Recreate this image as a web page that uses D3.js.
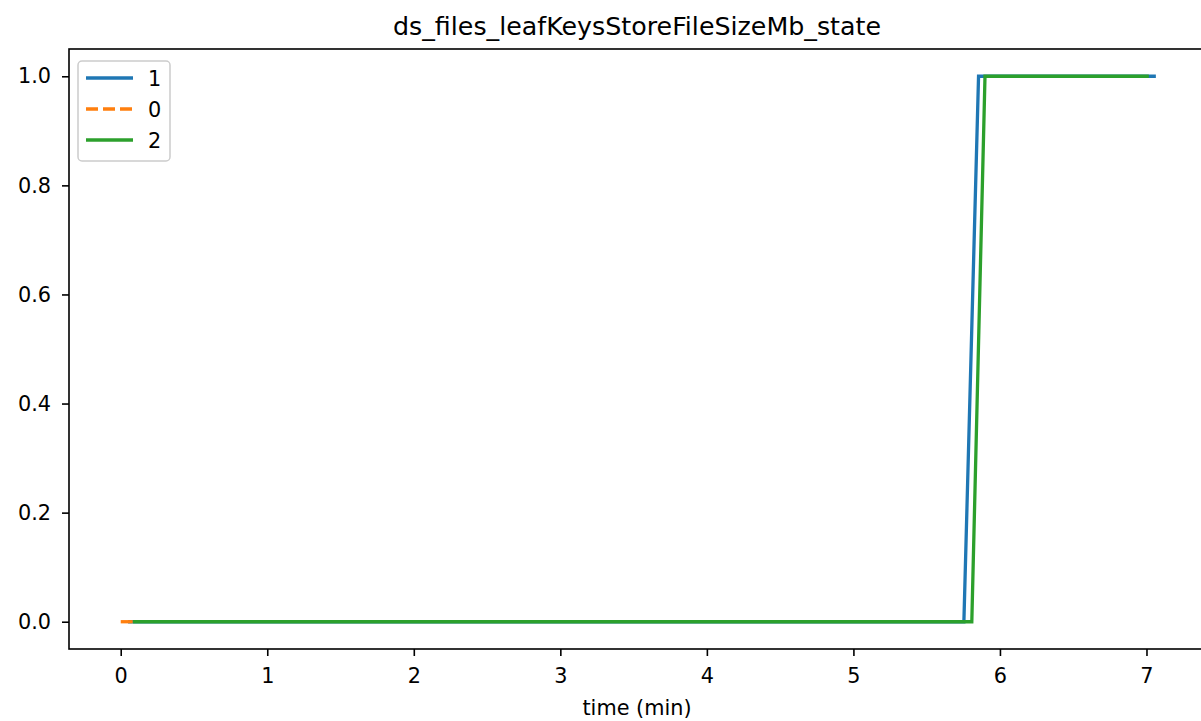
<!DOCTYPE html>
<html><head><meta charset="utf-8">
<script src="https://cdn.jsdelivr.net/npm/d3@7"></script>
<style>body{margin:0;background:#fff}svg{display:block}text{font-family:"DejaVu Sans",sans-serif;fill:#000}</style>
</head><body>
<script>
const title = "ds_files_leafKeysStoreFileSizeMb_state";
const xLabel = "time (min)";
const xTicks = [0,1,2,3,4,5,6,7];
const yTicks = [0,0.2,0.4,0.6,0.8,1.0];
const seriesNames = ["1","0","2"];
const seriesColors = ["#1f77b4","#ff7f0e","#2ca02c"];
const series1 = [[0.05,0],[5.754,0],[5.854,1],[7.064,1]];
const series0 = [[0,0],[0.084,0]];
const series2 = [[0.084,0],[5.808,0],[5.898,1],[7.016,1]];
const allSeries = [series1, series0, series2];
const dashes = [null, "12,5", null];

const W = 1201, H = 721;
const svg = d3.select("body").append("svg").attr("width", W).attr("height", H);
const x = d3.scaleLinear().domain([-0.353, 7.413]).range([69, 1207]);
const y = d3.scaleLinear().domain([-0.05, 1.05]).range([649, 49]);

svg.append("defs").append("clipPath").attr("id","clip").append("rect")
  .attr("x",69).attr("y",49).attr("width",1138).attr("height",600);

const line = d3.line().x(d=>x(d[0])).y(d=>y(d[1]));
const g = svg.append("g").attr("clip-path","url(#clip)");
allSeries.forEach((s,i)=>{
  g.append("path").datum(s).attr("d",line).attr("fill","none")
    .attr("stroke",seriesColors[i]).attr("stroke-width",3.3)
    .attr("stroke-dasharray",dashes[i]).attr("stroke-linejoin","miter");
});

// frame
svg.append("rect").attr("x",69).attr("y",49).attr("width",1138).attr("height",600)
  .attr("fill","none").attr("stroke","#000").attr("stroke-width",1.6);

const xAxis = svg.append("g").attr("transform","translate(0,649)")
  .call(d3.axisBottom(x).tickValues(xTicks).tickFormat(d3.format("d")).tickSize(7).tickPadding(12));
const yAxis = svg.append("g").attr("transform","translate(69,0)")
  .call(d3.axisLeft(y).tickValues(yTicks).tickFormat(d3.format(".1f")).tickSize(7).tickPadding(11));
[xAxis,yAxis].forEach(a=>{
  a.attr("font-size",20.8).attr("font-family","DejaVu Sans");
  a.select(".domain").remove();
  a.selectAll(".tick line").attr("stroke","#000").attr("stroke-width",1.6);
  a.selectAll(".tick text").attr("font-size",20.8);
});

svg.append("text").attr("x",637).attr("y",35).attr("text-anchor","middle")
  .attr("font-size",25.3).text(title);
svg.append("text").attr("x",637).attr("y",715).attr("text-anchor","middle")
  .attr("font-size",20.8).text(xLabel);

// legend
const lg = svg.append("g");
lg.append("rect").attr("x",78).attr("y",61).attr("width",92).attr("height",100)
  .attr("rx",4).attr("fill","#fff").attr("fill-opacity",0.8).attr("stroke","#ccc").attr("stroke-width",1.5);
seriesNames.forEach((n,i)=>{
  const yy = 78 + i*31;
  lg.append("line").attr("x1",86).attr("x2",133).attr("y1",yy).attr("y2",yy)
    .attr("stroke",seriesColors[i]).attr("stroke-width",3.3).attr("stroke-dasharray",dashes[i]);
  lg.append("text").attr("x",148).attr("y",yy+7.5).attr("font-size",20.8).text(n);
});
</script>
</body></html>
